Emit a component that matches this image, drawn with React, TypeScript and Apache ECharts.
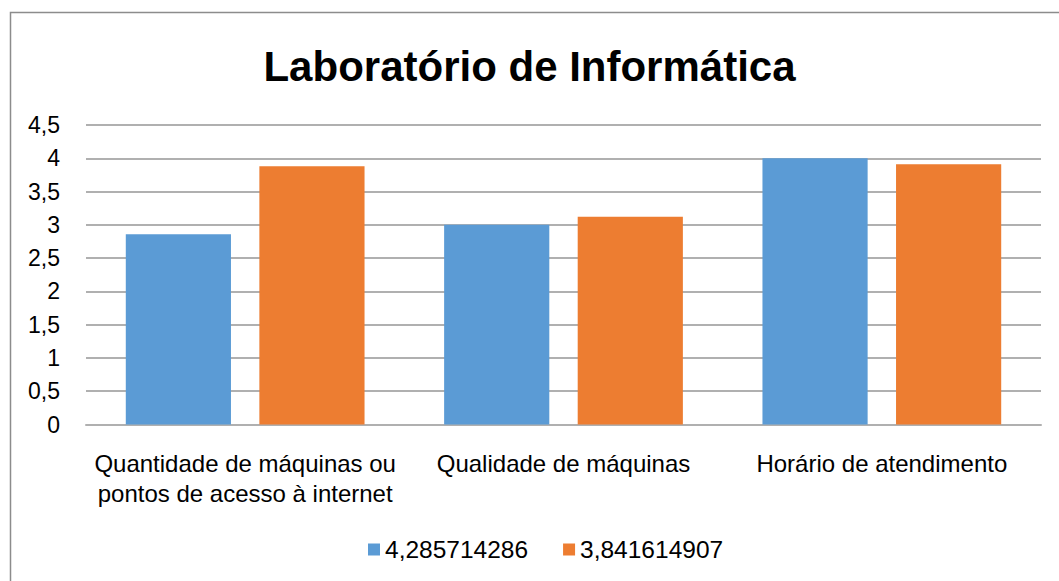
import React, { useEffect, useRef } from "react";
import * as echarts from "echarts";

const categories = [
  "Quantidade de máquinas ou\npontos de acesso à internet",
  "Qualidade de máquinas",
  "Horário de atendimento",
];
const seriesNames = ["4,285714286", "3,841614907"];
const seriesA = [2.857, 3.0, 4.0];
const seriesB = [3.88, 3.12, 3.91];
const title = "Laboratório de Informática";

export default function App() {
  const ref = useRef<HTMLDivElement>(null);
  useEffect(() => {
    if (!ref.current) return;
    const chart = echarts.init(ref.current, undefined, { renderer: "svg" });
    const font = "'Liberation Sans', Arial, sans-serif";
    chart.setOption({
      animation: false,
      backgroundColor: "#ffffff",
      textStyle: { fontFamily: font },
      title: {
        text: title,
        left: "center",
        top: 40,
        textStyle: { fontSize: 42, fontWeight: "bold", color: "#000", fontFamily: font },
      },
      legend: {
        left: 368,
        top: 537,
        padding: 0,
        itemWidth: 12,
        itemHeight: 12,
        itemGap: 35,
        icon: "rect",
        textStyle: { fontSize: 24.5, color: "#000", fontFamily: font },
        data: seriesNames,
      },
      graphic: [
        {
          type: "rect",
          shape: { x: 10.5, y: 12.5, width: 1200, height: 1000 },
          style: { fill: "none", stroke: "#8c8c8c", lineWidth: 1.5 },
          silent: true,
        },
      ],
      grid: { left: 86, right: 18, top: 125, bottom: 156.5 },
      xAxis: {
        type: "category",
        data: categories,
        axisTick: { show: false },
        axisLine: { lineStyle: { color: "#b0b0b0", width: 2 } },
        axisLabel: {
          interval: 0,
          fontSize: 24,
          color: "#000",
          lineHeight: 30,
          margin: 24,
          fontFamily: font,
        },
      },
      yAxis: {
        type: "value",
        min: 0,
        max: 4.5,
        interval: 0.5,
        axisLine: { show: false },
        axisTick: { show: false },
        splitLine: { lineStyle: { color: "#b0b0b0", width: 2 } },
        axisLabel: {
          fontSize: 23,
          color: "#000",
          margin: 26,
          fontFamily: font,
          formatter: (v: number) => String(v).replace(".", ","),
        },
      },
      series: [
        {
          name: seriesNames[0],
          type: "bar",
          data: seriesA,
          itemStyle: { color: "#5B9BD5" },
          barGap: "27%",
          barCategoryGap: "25%",
        },
        {
          name: seriesNames[1],
          type: "bar",
          data: seriesB,
          itemStyle: { color: "#ED7D31" },
          barGap: "27%",
          barCategoryGap: "25%",
        },
      ],
    });
    return () => chart.dispose();
  }, []);
  return (
    <div
      ref={ref}
      style={{ position: "absolute", left: 0, top: 0, width: 1059, height: 581 }}
    />
  );
}
